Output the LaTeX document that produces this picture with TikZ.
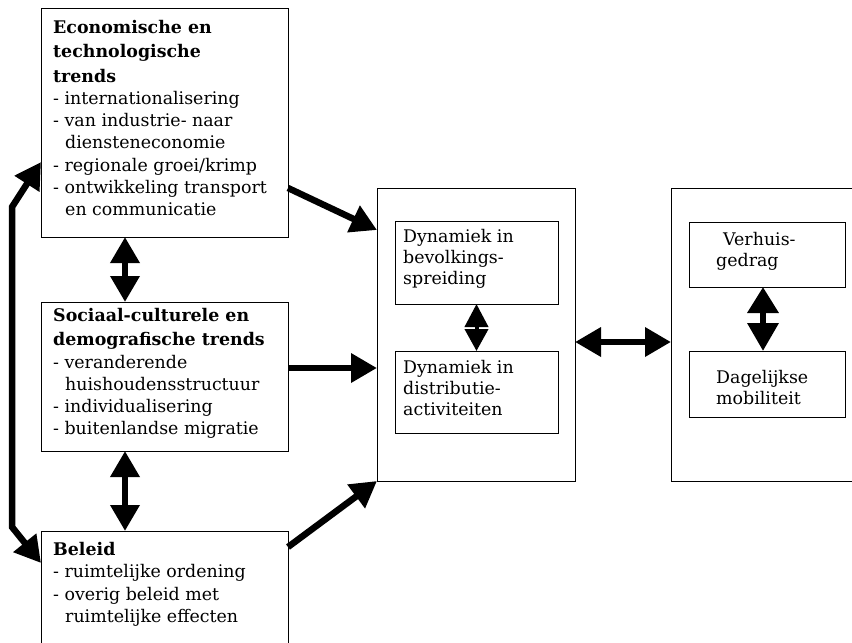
\documentclass[tikz,border=0pt]{standalone}
\usepackage{fontspec}
\setmainfont{DejaVu Serif}
\usetikzlibrary{arrows.meta,calc}
\begin{document}
\begin{tikzpicture}[x=1pt,y=-1pt,
  box/.style={draw=black,line width=1pt,anchor=north west,inner sep=0pt,outer sep=0pt},
  txt/.style={anchor=north west,inner sep=0pt,align=left,font=\fontsize{17.4}{22.3}\selectfont},
  itxt/.style={anchor=north west,inner sep=0pt,align=left,font=\fontsize{17.4}{21}\selectfont},
  conn/.style={line width=6.5pt},
  >={Triangle[length=26pt,width=28pt]}
]
\useasboundingbox (0,0) rectangle (852,643);
\clip (0,0) rectangle (852,643);

% boxes
\node[box,minimum width=247pt,minimum height=229pt] (econ) at (41,8) {};
\node[box,minimum width=247pt,minimum height=149pt] (soc) at (41,302) {};
\node[box,minimum width=247pt,minimum height=140pt] (bel) at (41,531) {};
\node[box,minimum width=198pt,minimum height=293pt] (mid) at (377,188) {};
\node[box,minimum width=163pt,minimum height=83pt] (dyn1) at (395,221) {};
\node[box,minimum width=163pt,minimum height=82pt] (dyn2) at (395,351) {};
\node[box,minimum width=210pt,minimum height=293pt] (rgt) at (671,188) {};
\node[box,minimum width=156pt,minimum height=65pt] (verh) at (689,222) {};
\node[box,minimum width=156pt,minimum height=66pt] (dag) at (689,351) {};

% texts
\node[txt] (econt) at (53,20) {\textbf{Economische en}\\[2pt]\textbf{technologische}\\[2pt]\textbf{trends}\\- internationalisering\\- van industrie- naar\\\hspace*{12pt}diensteneconomie\\- regionale groei/krimp\\- ontwikkeling transport\\\hspace*{12pt}en communicatie};
\node[txt] (soct) at (53,308) {\textbf{Sociaal-culturele en}\\[2pt]\textbf{demografische trends}\\- veranderende\\\hspace*{12pt}huishoudensstructuur\\- individualisering\\- buitenlandse migratie};
\node[txt] (belt) at (53,542) {\textbf{Beleid}\\- ruimtelijke ordening\\- overig beleid met\\\hspace*{12pt}ruimtelijke effecten};
\node[itxt] (dyn1t) at (403,229) {Dynamiek in\\bevolkings-\\spreiding};
\node[itxt] (dyn2t) at (403,360) {Dynamiek in\\distributie-\\activiteiten};
\node[itxt] (verht) at (716,232) {\hspace*{7pt}Verhuis-\\gedrag};
\node[itxt] (dagt) at (716,370) {Dagelijkse\\mobiliteit};

% connectors
\draw[conn,<->] ($(econ.south west)+(84,0)$) -- ($(soc.north west)+(84,0)$);
\draw[conn,<->] ($(soc.south west)+(84,0)$) -- ($(bel.north west)+(84,0)$);
\draw[conn,<->] ($(econ.north west)+(0,154)$) -- (12,207) -- (12,527) -- ($(bel.north west)+(0,32)$);
\draw[conn,->] ($(econ.north east)+(0,180)$) -- ($(mid.north west)+(0,42)$);
\draw[conn,->] ($(soc.north east)+(0,66)$) -- ($(mid.north west)+(0,180)$);
\draw[conn,->] ($(bel.north east)+(0,16)$) -- (mid.south west);
\draw[conn,<->] ($(mid.north east)+(0,154)$) -- ($(rgt.north west)+(0,154)$);
\draw[line width=4pt,{Triangle[length=23pt,width=23pt]}-{Triangle[length=22pt,width=23pt]}] (dyn1.south) -- (dyn2.north);
\draw[conn,{Triangle[length=26pt,width=30pt]}-{Triangle[length=28pt,width=30pt]}] ($(verh.south west)+(74,0)$) -- ($(dag.north west)+(74,0)$);
\end{tikzpicture}
\end{document}
